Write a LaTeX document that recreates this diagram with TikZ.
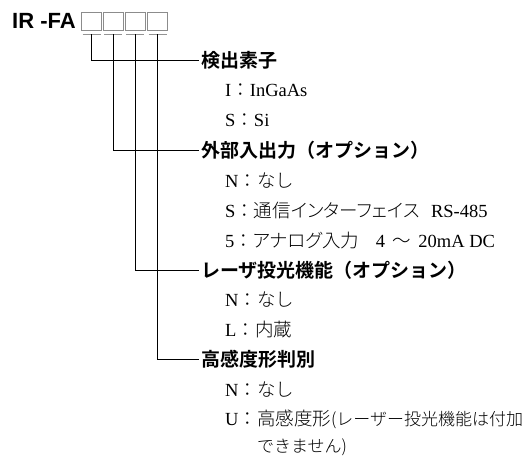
\documentclass[tikz,border=0pt]{standalone}
\usepackage{fontspec}
\setmainfont{Liberation Serif}
\newfontfamily\jp{Noto Sans CJK JP}[UprightFont=* Light,BoldFont=* Bold]
\newfontfamily\jpk{Noto Sans CJK JP}[UprightFont=* Light,RawFeature=+palt]
\newfontfamily\hdsans{Liberation Sans}
\newcommand\J[1]{{\jp #1}}
\newcommand\K[1]{{\jpk #1}}
\begin{document}
\begin{tikzpicture}[x=1pt,y=-1pt,
  box/.style={draw=gray!90, line width=0.9pt, minimum width=20pt, minimum height=18pt, inner sep=0pt, outer sep=0pt},
  hdr/.style={anchor=west, inner xsep=2pt, inner ysep=0pt, font=\jp\bfseries\fontsize{19}{19}\selectfont},
  itm/.style={anchor=west, inner sep=0pt, font=\fontsize{18.5}{18.5}\selectfont},
  conn/.style={draw=black, line width=0.9pt},
  tick/.style={draw=gray!85, line width=0.9pt}]
\useasboundingbox (0,0) rectangle (531,456);
% title
\node[anchor=east, inner sep=0pt, font=\hdsans\bfseries\fontsize{22}{22}\selectfont] (title) at (76,21) {IR -FA};
\node[box] (b1) at (91.7,21) {};
\node[box] (b2) at (113.3,21) {};
\node[box] (b3) at (135,21) {};
\node[box] (b4) at (157.5,21) {};
\coordinate (u1) at (91.7,34.3);
\coordinate (u2) at (113.3,34.3);
\coordinate (u3) at (135,34.3);
\coordinate (u4) at (157.5,34.3);
\foreach \i in {1,2,3,4}{
  \draw[tick] ([xshift=1pt]b\i.south west |- u\i) -- ([xshift=-1pt]b\i.south east |- u\i);
}
% headers
\node[hdr] (h1) at (199,60.7) {検出素子};
\node[hdr] (h2) at (199,150.4) {外部入出力（オプション）};
\node[hdr] (h3) at (199,270) {レーザ投光機能（オプション）};
\node[hdr] (h4) at (199,359.7) {高感度形判別};
% connectors
\draw[conn] (u1) |- (h1.west);
\draw[conn] (u2) |- (h2.west);
\draw[conn] (u3) |- (h3.west);
\draw[conn] (u4) |- (h4.west);
% items
\node[itm] (i11) at (225,90.6) {I\J{：}InGaAs};
\node[itm] (i12) at (225,120.5) {S\J{：}Si};
\node[itm] (i21) at (225,180.3) {N\J{：なし}};
\node[itm] (i22) at (225,210.2) {S\J{：通信}\K{インターフェイス}\hspace{0.6em}RS-485};
\node[itm] (i23) at (225,240.1) {5\J{：}\K{アナログ}\J{入力}\hspace{0.9em}4\hspace{0.4em}\J{～}\hspace{0.4em}20mA\hspace{0.25em}DC};
\node[itm] (i31) at (225,299.9) {N\J{：なし}};
\node[itm] (i32) at (225,329.8) {L\J{：内蔵}};
\node[itm] (i41) at (225,389.6) {N\J{：なし}};
\node[itm] (i42) at (225,419.5) {U\J{：高感度形}{\fontsize{17}{17}\selectfont\J{(レーザー投光機能は付加}}};
\node[itm] (i43) at (225,447) {\phantom{U\J{：}}{\fontsize{17}{17}\selectfont\J{できません)}}};
\end{tikzpicture}
\end{document}
